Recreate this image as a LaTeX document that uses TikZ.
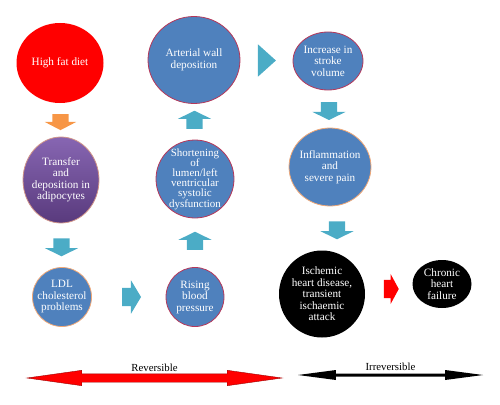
\documentclass[tikz,border=0pt]{standalone}
\usepackage{fontspec}
\setmainfont{Liberation Serif}
\usetikzlibrary{shapes.geometric,shapes.arrows,calc,positioning}

\definecolor{ppblue}{HTML}{4F81BD}
\definecolor{ppteal}{HTML}{4BACC6}
\definecolor{pporange}{HTML}{F79646}
\definecolor{ppcrimson}{HTML}{B5385A}
\definecolor{pptan}{HTML}{EFA878}
\definecolor{pppurpletop}{HTML}{8766B2}
\definecolor{pppurplebot}{HTML}{593A7D}

\begin{document}
\begin{tikzpicture}[x=1pt,y=-1pt,
        bubble/.style={ellipse, inner sep=0pt, line width=0.8pt},
        txt/.style={text=white, align=center, font=\fontsize{11.2}{11.5}\selectfont},
        lbl/.style={inner sep=0pt, font=\fontsize{10.8}{11}\selectfont},
        blockarrow/.style={single arrow, inner xsep=0pt, inner ysep=8pt, fill=ppteal,
            single arrow head extend=8.5pt, single arrow tip angle=128, minimum height=18pt}]
    \useasboundingbox (0,0) rectangle (500,404);

    % the bubbles
    \node[bubble, fill=red, minimum width=87pt, minimum height=80pt,
        label={[txt]center:High fat diet}] (diet) at (60,63) {};
    \node[bubble, fill=ppblue, draw=ppcrimson, minimum width=92pt, minimum height=87pt,
        label={[txt]center:{Arterial wall\\deposition}}] (arterial) at (194,60) {};
    \node[bubble, fill=ppblue, draw=ppcrimson, minimum width=70pt, minimum height=58pt,
        label={[txt]center:{Increase in\\stroke\\volume}}] (stroke) at (328,61) {};
    \node[bubble, top color=pppurpletop, bottom color=pppurplebot, draw=pptan!70!pppurpletop,
        minimum width=76pt, minimum height=86pt,
        label={[txt]center:{Transfer\\and\\deposition in\\adipocytes}}] (transfer) at (61,180) {};
    \node[bubble, fill=ppblue, draw=ppcrimson, minimum width=78pt, minimum height=78pt,
        label={[txt, font=\fontsize{11}{10.2}\selectfont]center:{Shortening\\of\\lumen/left\\ventricular\\systolic\\dysfunction}}] (shortening) at (195,179) {};
    \node[bubble, fill=ppblue, draw=pptan, minimum width=82pt, minimum height=78pt,
        label={[txt]center:{Inflammation\\and\\severe pain}}] (inflam) at (330,167) {};
    \node[bubble, fill=ppblue, draw=pptan, minimum width=59pt, minimum height=59pt,
        label={[txt]center:{LDL\\cholesterol\\problems}}] (ldl) at (62,297) {};
    \node[bubble, fill=ppblue, draw=ppcrimson, minimum width=58pt, minimum height=59pt,
        label={[txt]center:{Rising\\blood\\pressure}}] (rising) at (195,297) {};
    \node[bubble, fill=black, minimum width=86pt, minimum height=87pt,
        label={[txt]center:{Ischemic\\heart disease,\\transient\\ischaemic\\attack}}] (ischemic) at (322,294) {};
    \node[bubble, fill=black, minimum width=59pt, minimum height=48pt,
        label={[txt]center:{Chronic\\heart\\failure}}] (chronic) at (442,284) {};

    % block arrows between the bubbles
    \foreach \a/\b/\r [count=\i] in {transfer.south/ldl.north/-90, stroke.south/inflam.north/-90,
            rising.north/shortening.south/90, shortening.north/arterial.south/90} {
        \node[blockarrow, rotate=\r] (step\i) at ($(\a)!0.5!(\b)$) {};
    }
    \node[blockarrow, xshift=11pt, rotate=-90] (step5) at ($(inflam.south)!0.5!(ischemic.north)$) {};
    \node[blockarrow, inner ysep=9pt, single arrow head extend=7.5pt, single arrow tip angle=118,
        minimum height=19pt] (step6) at ($(ldl.east)!0.5!(rising.west)$) {};
    \node[blockarrow, inner ysep=0.5pt, single arrow head extend=15.5pt, single arrow tip angle=84,
        minimum height=18pt] (step7) at ($(arterial.east)!0.5!(stroke.west)$) {};
    \node[blockarrow, fill=pporange, rotate=-90, single arrow head extend=7.5pt,
        single arrow tip angle=125, minimum height=16pt] (step8) at ($(diet.south)!0.5!(transfer.north)$) {};
    \node[blockarrow, fill=red, inner ysep=9pt, single arrow head extend=6pt,
        single arrow tip angle=123, minimum height=15pt] (step9) at ($(ischemic.east)!0.5!(chronic.west)$) {};

    % reversible / irreversible
    \node[double arrow, fill=red, draw=red!60!black, line width=0.4pt, inner xsep=0pt, inner ysep=4pt,
        double arrow head extend=3.5pt, double arrow tip angle=16, minimum height=255pt] (revarrow) at (154.5,378) {};
    \node[double arrow, fill=black, inner xsep=0pt, inner ysep=1.3pt,
        double arrow head extend=3.5pt, double arrow tip angle=15, minimum height=185pt] (irrarrow) at (390.5,375) {};
    \node[lbl, above=2pt of revarrow] (revlabel) {Reversible};
    \node[lbl, above=2pt of irrarrow] (irrlabel) {Irreversible};
\end{tikzpicture}
\end{document}
